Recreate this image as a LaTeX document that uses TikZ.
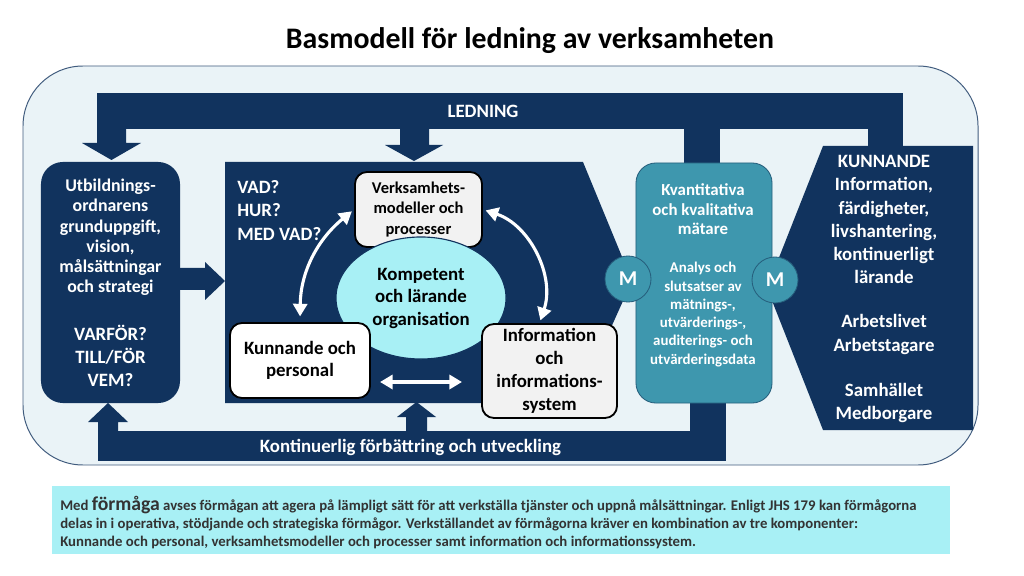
\documentclass[tikz,border=0pt]{standalone}
\usepackage{fontspec}
\setmainfont{Carlito}
\usetikzlibrary{arrows.meta,shapes.geometric}

\definecolor{ledblue}{RGB}{17,51,94}
\definecolor{ramfarg}{RGB}{234,243,247}
\definecolor{matblue}{RGB}{62,151,174}
\definecolor{matkant}{RGB}{38,95,125}
\definecolor{ljuscyan}{RGB}{168,240,245}
\definecolor{ljusgra}{RGB}{242,242,242}
\definecolor{notgra}{RGB}{51,51,51}

\tikzset{
  block/.style={fill=ledblue,draw=none},
  vittext/.style={text=white,font=\bfseries\fontsize{13.4}{16.4}\selectfont,align=center,inner sep=0pt},
  komponent/.style={draw=black,line width=1.3pt,rounded corners=0.3cm,fill=ljusgra,inner sep=0pt,
    align=center,font=\bfseries\fontsize{13.4}{16.2}\selectfont},
  pil/.style={white,line width=2.2pt,{Triangle[length=9pt,width=10pt]}-{Triangle[length=9pt,width=10pt]}},
  mcirkel/.style={circle,fill=matblue,draw=matkant,line width=0.6pt,minimum size=1.15cm,inner sep=0pt,
    text=white,font=\bfseries\fontsize{15}{16}\selectfont}
}

\begin{document}
\begin{tikzpicture}[x=0.025cm,y=-0.025cm]
\useasboundingbox (0,0) rectangle (1024,576);

% rubrik
\node[font=\bfseries\fontsize{21.2}{24}\selectfont] (rubrik) at (530,41) {Basmodell för ledning av verksamheten};

% ram
\draw[fill=ramfarg,draw=ledblue!80,line width=0.7pt,rounded corners=1.5cm] (23,66) rectangle (978,465);

% ledning
\fill[block] (97,93) rectangle (903,129);
\fill[block] (97,129) -- (97,143) -- (82,143) -- (111.5,160) -- (141,143) -- (126,143) -- (126,129) -- cycle;
\fill[block] (400,129) -- (400,145) -- (385,145) -- (414,161) -- (443,145) -- (429,145) -- (429,129) -- cycle;
\fill[block] (684,129) rectangle (720,164);
\fill[block] (868,129) rectangle (903,147);
\node[vittext] (ledning) at (483,111) {LEDNING};

% forbattring
\fill[block] (98,431) rectangle (726,461);
\fill[block] (690,400) rectangle (726,431);
\fill[block] (98,432) -- (98,422) -- (88,422) -- (108,403) -- (128,422) -- (118,422) -- (118,432) -- cycle;
\fill[block] (406,432) -- (406,417) -- (397,417) -- (416.5,402) -- (436,417) -- (427,417) -- (427,432) -- cycle;
\node[vittext] (forbattring) at (410.5,447) {Kontinuerlig förbättring och utveckling};

% mitten
\fill[block] (225,162) -- (583,162) -- (632,281) -- (577,403) -- (225,403) -- cycle;
\fill[block] (180,268) -- (205,268) -- (205,262) -- (225,281) -- (205,300) -- (205,290) -- (180,290) -- cycle;
\node[vittext,align=left,anchor=west] (fragor) at (237,210.5) {VAD?\\HUR?\\MED VAD?};

% hoger
\fill[block] (823,146) -- (973,146) -- (973,430) -- (823,430) -- (767,288) -- cycle;
\node[vittext] (kunnande) at (884,219.5) {KUNNANDE\\Information,\\färdigheter,\\livshantering,\\kontinuerligt\\lärande};
\node[vittext] (arbetsliv) at (884,334.5) {Arbetslivet\\Arbetstagare};
\node[vittext] (samhalle) at (884,403) {Samhället\\Medborgare};

% vanster
\node[fill=ledblue,rounded corners=0.55cm,minimum width=3.475cm,minimum height=6.025cm] (syfte) at (110.5,282.5) {};
\node[vittext,font=\bfseries\fontsize{12.7}{14.4}\selectfont] (uppgift) at (110.5,237.5) {Utbildnings-\\ordnarens\\grunduppgift,\\vision,\\målsättningar\\och strategi};
\node[vittext] (varfor) at (110.5,355.5) {VARFÖR?\\TILL/FÖR\\VEM?};

% matare
\node[fill=matblue,draw=matkant,line width=0.6pt,rounded corners=0.5cm,minimum width=3.4cm,minimum height=6cm] (matare) at (704,283) {};
\node[vittext,font=\bfseries\fontsize{12}{13.9}\selectfont] (matare1) at (703,209.5) {Kvantitativa\\och kvalitativa\\mätare};
\node[vittext,font=\bfseries\fontsize{10.6}{13}\selectfont] (analys) at (703,314.5) {Analys och\\slutsatser av\\mätnings-,\\utvärderings-,\\auditerings- och\\utvärderingsdata};
\node[mcirkel] (m1) at (628,279) {\textbf{M}};
\node[mcirkel] (m2) at (775,280) {\textbf{M}};

% komponenter
\node[komponent,minimum width=3.175cm,minimum height=1.875cm,font=\bfseries\fontsize{11.7}{14.6}\selectfont] (verk) at (418.5,209.5) {Verksamhets-\\modeller och\\processer};
\node[ellipse,draw=ledblue,line width=0.8pt,fill=ljuscyan,minimum width=4.25cm,minimum height=3.05cm,inner sep=0pt,
  align=center,font=\bfseries\fontsize{13.4}{16}\selectfont] (org) at (421,298) {Kompetent\\och lärande\\organisation};
\node[komponent,fill=white,minimum width=3.5cm,minimum height=1.875cm,font=\bfseries\fontsize{13.4}{15.6}\selectfont] (kun) at (300,360.5) {Kunnande och\\personal};
\node[komponent,minimum width=3.375cm,minimum height=2.35cm] (info) at (549.5,371) {Information\\och\\informations-\\system};

\draw[pil,shorten <=4pt,shorten >=2pt] (kun.north) to[bend left=25] (verk.west);
\draw[pil,shorten <=2pt,shorten >=2pt] (verk.east) to[bend left=45] ([xshift=-0.25cm]info.north);
\coordinate (pa) at (380,382);
\coordinate (pb) at (462,382);
\draw[pil] (pa) -- (pb);

% not
\node[fill=ljuscyan,minimum width=22.45cm,minimum height=1.7cm,inner sep=0pt] (not) at (501,520) {};
\node[anchor=west,align=left,inner sep=0pt,text=notgra,font=\bfseries\fontsize{10.5}{12.8}\selectfont] (nottext) at (60,523)
  {Med {\fontsize{14}{12.8}\selectfont förmåga} avses förmågan att agera på lämpligt sätt för att verkställa tjänster och uppnå målsättningar. Enligt JHS 179 kan förmågorna\\
   delas in i operativa, stödjande och strategiska förmågor. Verkställandet av förmågorna kräver en kombination av tre komponenter:\\
   Kunnande och personal, verksamhetsmodeller och processer samt information och informationssystem.};
\end{tikzpicture}
\end{document}
